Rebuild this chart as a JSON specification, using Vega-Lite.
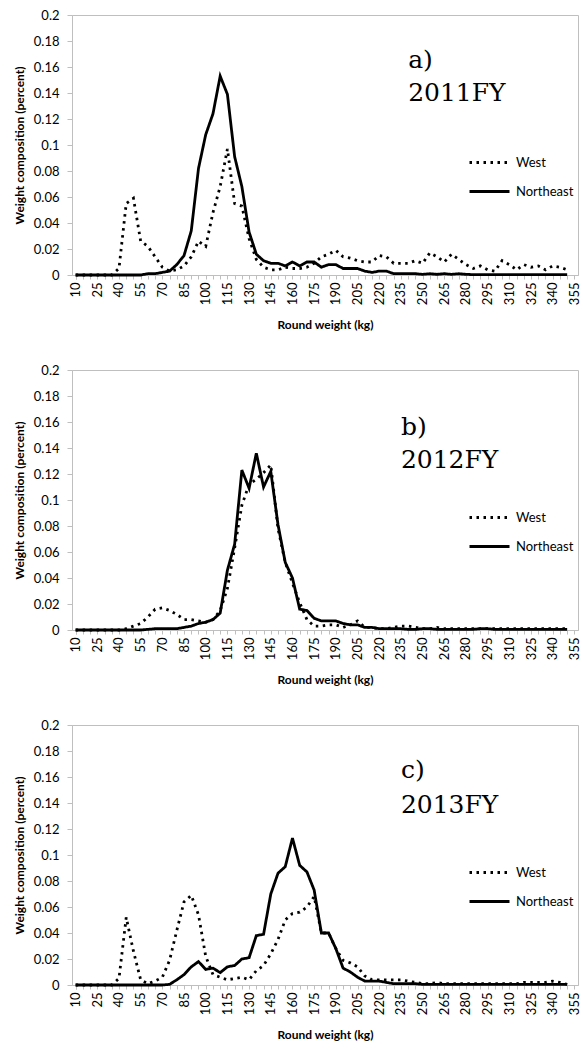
{
  "$schema": "https://vega.github.io/schema/vega-lite/v6.json",
  "background": "white",
  "padding": {"left": 12, "top": 8, "right": 0, "bottom": 2},
  "spacing": 31,
  "datasets": {
    "y2011": [
      {"kg":10,"West":0,"Northeast":0},{"kg":15,"West":0,"Northeast":0},{"kg":20,"West":0,"Northeast":0},{"kg":25,"West":0,"Northeast":0},{"kg":30,"West":0,"Northeast":0},{"kg":35,"West":0,"Northeast":0},
      {"kg":40,"West":0.005,"Northeast":0},{"kg":45,"West":0.055,"Northeast":0},{"kg":50,"West":0.059,"Northeast":0},{"kg":55,"West":0.026,"Northeast":0},
      {"kg":60,"West":0.022,"Northeast":0.001},{"kg":65,"West":0.014,"Northeast":0.001},{"kg":70,"West":0.006,"Northeast":0.002},{"kg":75,"West":0.003,"Northeast":0.003},
      {"kg":80,"West":0.004,"Northeast":0.008},{"kg":85,"West":0.007,"Northeast":0.015},{"kg":90,"West":0.014,"Northeast":0.034},{"kg":95,"West":0.026,"Northeast":0.082},
      {"kg":100,"West":0.022,"Northeast":0.108},{"kg":105,"West":0.048,"Northeast":0.124},{"kg":110,"West":0.068,"Northeast":0.153},{"kg":115,"West":0.097,"Northeast":0.139},
      {"kg":120,"West":0.055,"Northeast":0.091},{"kg":125,"West":0.053,"Northeast":0.068},{"kg":130,"West":0.028,"Northeast":0.033},{"kg":135,"West":0.012,"Northeast":0.016},
      {"kg":140,"West":0.006,"Northeast":0.011},{"kg":145,"West":0.004,"Northeast":0.009},{"kg":150,"West":0.004,"Northeast":0.009},{"kg":155,"West":0.006,"Northeast":0.007},
      {"kg":160,"West":0.005,"Northeast":0.010},{"kg":165,"West":0.005,"Northeast":0.007},{"kg":170,"West":0.006,"Northeast":0.010},{"kg":175,"West":0.009,"Northeast":0.010},
      {"kg":180,"West":0.014,"Northeast":0.006},{"kg":185,"West":0.016,"Northeast":0.008},{"kg":190,"West":0.019,"Northeast":0.008},{"kg":195,"West":0.014,"Northeast":0.005},
      {"kg":200,"West":0.013,"Northeast":0.005},{"kg":205,"West":0.011,"Northeast":0.005},{"kg":210,"West":0.010,"Northeast":0.003},{"kg":215,"West":0.010,"Northeast":0.002},
      {"kg":220,"West":0.015,"Northeast":0.003},{"kg":225,"West":0.014,"Northeast":0.003},{"kg":230,"West":0.009,"Northeast":0.001},{"kg":235,"West":0.009,"Northeast":0.001},
      {"kg":240,"West":0.009,"Northeast":0.001},{"kg":245,"West":0.011,"Northeast":0.001},{"kg":250,"West":0.009,"Northeast":0.0005},{"kg":255,"West":0.017,"Northeast":0.001},
      {"kg":260,"West":0.014,"Northeast":0.0005},{"kg":265,"West":0.010,"Northeast":0.001},{"kg":270,"West":0.016,"Northeast":0.0005},{"kg":275,"West":0.012,"Northeast":0.001},
      {"kg":280,"West":0.008,"Northeast":0.0005},{"kg":285,"West":0.005,"Northeast":0.0003},{"kg":290,"West":0.007,"Northeast":0.0003},{"kg":295,"West":0.004,"Northeast":0.0003},
      {"kg":300,"West":0.003,"Northeast":0.0003},{"kg":305,"West":0.011,"Northeast":0.0003},{"kg":310,"West":0.008,"Northeast":0.0003},{"kg":315,"West":0.004,"Northeast":0.0003},
      {"kg":320,"West":0.008,"Northeast":0.0003},{"kg":325,"West":0.006,"Northeast":0.0003},{"kg":330,"West":0.007,"Northeast":0.0003},{"kg":335,"West":0.004,"Northeast":0.0003},
      {"kg":340,"West":0.007,"Northeast":0.0003},{"kg":345,"West":0.006,"Northeast":0.0003},{"kg":350,"West":0.004,"Northeast":0.0003}
    ],
    "y2012": [
      {"kg":10,"West":0,"Northeast":0},{"kg":15,"West":0,"Northeast":0},{"kg":20,"West":0,"Northeast":0},{"kg":25,"West":0,"Northeast":0},{"kg":30,"West":0,"Northeast":0},{"kg":35,"West":0,"Northeast":0},
      {"kg":40,"West":0,"Northeast":0},{"kg":45,"West":0.001,"Northeast":0},{"kg":50,"West":0.003,"Northeast":0},{"kg":55,"West":0.005,"Northeast":0},
      {"kg":60,"West":0.010,"Northeast":0.0005},{"kg":65,"West":0.016,"Northeast":0.001},{"kg":70,"West":0.017,"Northeast":0.001},{"kg":75,"West":0.015,"Northeast":0.001},
      {"kg":80,"West":0.012,"Northeast":0.001},{"kg":85,"West":0.008,"Northeast":0.002},{"kg":90,"West":0.008,"Northeast":0.003},{"kg":95,"West":0.007,"Northeast":0.005},
      {"kg":100,"West":0.006,"Northeast":0.006},{"kg":105,"West":0.008,"Northeast":0.008},{"kg":110,"West":0.015,"Northeast":0.013},{"kg":115,"West":0.032,"Northeast":0.046},
      {"kg":120,"West":0.063,"Northeast":0.066},{"kg":125,"West":0.096,"Northeast":0.123},{"kg":130,"West":0.112,"Northeast":0.109},{"kg":135,"West":0.116,"Northeast":0.136},
      {"kg":140,"West":0.121,"Northeast":0.110},{"kg":145,"West":0.127,"Northeast":0.122},{"kg":150,"West":0.078,"Northeast":0.081},{"kg":155,"West":0.052,"Northeast":0.052},
      {"kg":160,"West":0.036,"Northeast":0.040},{"kg":165,"West":0.021,"Northeast":0.016},{"kg":170,"West":0.008,"Northeast":0.015},{"kg":175,"West":0.003,"Northeast":0.009},
      {"kg":180,"West":0.003,"Northeast":0.007},{"kg":185,"West":0.004,"Northeast":0.007},{"kg":190,"West":0.004,"Northeast":0.007},{"kg":195,"West":0.002,"Northeast":0.005},
      {"kg":200,"West":0.004,"Northeast":0.004},{"kg":205,"West":0.007,"Northeast":0.004},{"kg":210,"West":0.002,"Northeast":0.002},{"kg":215,"West":0.002,"Northeast":0.002},
      {"kg":220,"West":0.001,"Northeast":0.001},{"kg":225,"West":0.001,"Northeast":0.001},{"kg":230,"West":0.002,"Northeast":0.001},{"kg":235,"West":0.003,"Northeast":0.001},
      {"kg":240,"West":0.003,"Northeast":0.0005},{"kg":245,"West":0.002,"Northeast":0.0005},{"kg":250,"West":0.001,"Northeast":0.001},{"kg":255,"West":0.001,"Northeast":0.001},
      {"kg":260,"West":0.002,"Northeast":0.0005},{"kg":265,"West":0.001,"Northeast":0.0005},{"kg":270,"West":0.001,"Northeast":0.0005},{"kg":275,"West":0.001,"Northeast":0.0005},
      {"kg":280,"West":0.001,"Northeast":0.0005},{"kg":285,"West":0.001,"Northeast":0.0005},{"kg":290,"West":0.001,"Northeast":0.001},{"kg":295,"West":0.001,"Northeast":0.001},
      {"kg":300,"West":0.001,"Northeast":0.0005},{"kg":305,"West":0.001,"Northeast":0.0005},{"kg":310,"West":0.001,"Northeast":0.0005},{"kg":315,"West":0.001,"Northeast":0.0005},
      {"kg":320,"West":0.001,"Northeast":0.0005},{"kg":325,"West":0.001,"Northeast":0.0005},{"kg":330,"West":0.001,"Northeast":0.0005},{"kg":335,"West":0.001,"Northeast":0.0005},
      {"kg":340,"West":0.001,"Northeast":0.0005},{"kg":345,"West":0.001,"Northeast":0.0005},{"kg":350,"West":0.001,"Northeast":0.0005}
    ],
    "y2013": [
      {"kg":10,"West":0,"Northeast":0},{"kg":15,"West":0,"Northeast":0},{"kg":20,"West":0,"Northeast":0},{"kg":25,"West":0,"Northeast":0},{"kg":30,"West":0,"Northeast":0},{"kg":35,"West":0,"Northeast":0},
      {"kg":40,"West":0.005,"Northeast":0},{"kg":45,"West":0.052,"Northeast":0},{"kg":50,"West":0.026,"Northeast":0},{"kg":55,"West":0.004,"Northeast":0},
      {"kg":60,"West":0.001,"Northeast":0},{"kg":65,"West":0.003,"Northeast":0},{"kg":70,"West":0.006,"Northeast":0},{"kg":75,"West":0.019,"Northeast":0.0005},
      {"kg":80,"West":0.042,"Northeast":0.004},{"kg":85,"West":0.064,"Northeast":0.008},{"kg":90,"West":0.069,"Northeast":0.014},{"kg":95,"West":0.054,"Northeast":0.018},
      {"kg":100,"West":0.022,"Northeast":0.012},{"kg":105,"West":0.008,"Northeast":0.013},{"kg":110,"West":0.006,"Northeast":0.0095},{"kg":115,"West":0.004,"Northeast":0.014},
      {"kg":120,"West":0.005,"Northeast":0.015},{"kg":125,"West":0.006,"Northeast":0.020},{"kg":130,"West":0.004,"Northeast":0.021},{"kg":135,"West":0.011,"Northeast":0.038},
      {"kg":140,"West":0.015,"Northeast":0.039},{"kg":145,"West":0.024,"Northeast":0.070},{"kg":150,"West":0.035,"Northeast":0.086},{"kg":155,"West":0.050,"Northeast":0.091},
      {"kg":160,"West":0.055,"Northeast":0.113},{"kg":165,"West":0.056,"Northeast":0.092},{"kg":170,"West":0.060,"Northeast":0.087},{"kg":175,"West":0.068,"Northeast":0.073},
      {"kg":180,"West":0.040,"Northeast":0.040},{"kg":185,"West":0.040,"Northeast":0.040},{"kg":190,"West":0.028,"Northeast":0.028},{"kg":195,"West":0.019,"Northeast":0.013},
      {"kg":200,"West":0.017,"Northeast":0.010},{"kg":205,"West":0.014,"Northeast":0.006},{"kg":210,"West":0.007,"Northeast":0.003},{"kg":215,"West":0.004,"Northeast":0.003},
      {"kg":220,"West":0.004,"Northeast":0.003},{"kg":225,"West":0.004,"Northeast":0.002},{"kg":230,"West":0.004,"Northeast":0.001},{"kg":235,"West":0.004,"Northeast":0.001},
      {"kg":240,"West":0.003,"Northeast":0.001},{"kg":245,"West":0.002,"Northeast":0.001},{"kg":250,"West":0.001,"Northeast":0.0005},{"kg":255,"West":0.001,"Northeast":0.0005},
      {"kg":260,"West":0.002,"Northeast":0.0005},{"kg":265,"West":0.001,"Northeast":0.0005},{"kg":270,"West":0.001,"Northeast":0.0005},{"kg":275,"West":0.001,"Northeast":0.0005},
      {"kg":280,"West":0.001,"Northeast":0.0005},{"kg":285,"West":0.001,"Northeast":0.0005},{"kg":290,"West":0.001,"Northeast":0.0005},{"kg":295,"West":0.001,"Northeast":0.0005},
      {"kg":300,"West":0.001,"Northeast":0.0005},{"kg":305,"West":0.001,"Northeast":0.0005},{"kg":310,"West":0.001,"Northeast":0.0005},{"kg":315,"West":0.001,"Northeast":0.0005},
      {"kg":320,"West":0.002,"Northeast":0.0005},{"kg":325,"West":0.002,"Northeast":0.0005},{"kg":330,"West":0.002,"Northeast":0.0005},{"kg":335,"West":0.002,"Northeast":0.0005},
      {"kg":340,"West":0.003,"Northeast":0.0005},{"kg":345,"West":0.002,"Northeast":0.0005},{"kg":350,"West":0.0005,"Northeast":0.0005}
    ]
  },
  "vconcat": [
    {
      "width": 506, "height": 260,
      "layer": [
        {
          "data": {"name": "y2011"},
          "transform": [{"fold": ["West", "Northeast"], "as": ["region", "value"]}],
          "mark": {"type": "line", "color": "black", "strokeWidth": 2.8},
          "encoding": {
            "x": {"field": "kg", "type": "ordinal", "title": "Round weight (kg)",
              "scale": {"domain": [10,15,20,25,30,35,40,45,50,55,60,65,70,75,80,85,90,95,100,105,110,115,120,125,130,135,140,145,150,155,160,165,170,175,180,185,190,195,200,205,210,215,220,225,230,235,240,245,250,255,260,265,270,275,280,285,290,295,300,305,310,315,320,325,330,335,340,345,350,355], "paddingInner": 0, "paddingOuter": 0}},
            "y": {"field": "value", "type": "quantitative", "title": "Weight composition  (percent)", "scale": {"domain": [0, 0.2], "nice": false}},
            "strokeDash": {"field": "region", "type": "nominal", "scale": {"domain": ["West", "Northeast"], "range": [[2.5, 4.5], [1, 0]]},
              "legend": {"orient": "none", "legendX": 396, "legendY": 126, "direction": "vertical"}}
          }
        },
        {"data": {"values": [{}]}, "mark": {"type": "text", "text": "a)", "font": "DejaVu Serif", "fontSize": 25, "align": "left", "baseline": "alphabetic", "color": "black"},
          "encoding": {"x": {"datum": 240, "type": "ordinal"}, "y": {"datum": 0.159, "type": "quantitative"}}},
        {"data": {"values": [{}]}, "mark": {"type": "text", "text": "2011FY", "font": "DejaVu Serif", "fontSize": 25, "align": "left", "baseline": "alphabetic", "color": "black"},
          "encoding": {"x": {"datum": 240, "type": "ordinal"}, "y": {"datum": 0.134, "type": "quantitative"}}}
      ]
    },
    {
      "width": 506, "height": 260,
      "layer": [
        {
          "data": {"name": "y2012"},
          "transform": [{"fold": ["West", "Northeast"], "as": ["region", "value"]}],
          "mark": {"type": "line", "color": "black", "strokeWidth": 2.8},
          "encoding": {
            "x": {"field": "kg", "type": "ordinal", "title": "Round weight (kg)",
              "scale": {"domain": [10,15,20,25,30,35,40,45,50,55,60,65,70,75,80,85,90,95,100,105,110,115,120,125,130,135,140,145,150,155,160,165,170,175,180,185,190,195,200,205,210,215,220,225,230,235,240,245,250,255,260,265,270,275,280,285,290,295,300,305,310,315,320,325,330,335,340,345,350,355], "paddingInner": 0, "paddingOuter": 0}},
            "y": {"field": "value", "type": "quantitative", "title": "Weight composition  (percent)", "scale": {"domain": [0, 0.2], "nice": false}},
            "strokeDash": {"field": "region", "type": "nominal", "scale": {"domain": ["West", "Northeast"], "range": [[2.5, 4.5], [1, 0]]},
              "legend": {"orient": "none", "legendX": 396, "legendY": 126, "direction": "vertical"}}
          }
        },
        {"data": {"values": [{}]}, "mark": {"type": "text", "text": "b)", "font": "DejaVu Serif", "fontSize": 25, "align": "left", "baseline": "alphabetic", "color": "black"},
          "encoding": {"x": {"datum": 235, "type": "ordinal"}, "y": {"datum": 0.150, "type": "quantitative"}}},
        {"data": {"values": [{}]}, "mark": {"type": "text", "text": "2012FY", "font": "DejaVu Serif", "fontSize": 25, "align": "left", "baseline": "alphabetic", "color": "black"},
          "encoding": {"x": {"datum": 235, "type": "ordinal"}, "y": {"datum": 0.1246, "type": "quantitative"}}}
      ]
    },
    {
      "width": 506, "height": 260,
      "layer": [
        {
          "data": {"name": "y2013"},
          "transform": [{"fold": ["West", "Northeast"], "as": ["region", "value"]}],
          "mark": {"type": "line", "color": "black", "strokeWidth": 2.8},
          "encoding": {
            "x": {"field": "kg", "type": "ordinal", "title": "Round weight (kg)",
              "scale": {"domain": [10,15,20,25,30,35,40,45,50,55,60,65,70,75,80,85,90,95,100,105,110,115,120,125,130,135,140,145,150,155,160,165,170,175,180,185,190,195,200,205,210,215,220,225,230,235,240,245,250,255,260,265,270,275,280,285,290,295,300,305,310,315,320,325,330,335,340,345,350,355], "paddingInner": 0, "paddingOuter": 0}},
            "y": {"field": "value", "type": "quantitative", "title": "Weight composition  (percent)", "scale": {"domain": [0, 0.2], "nice": false}},
            "strokeDash": {"field": "region", "type": "nominal", "scale": {"domain": ["West", "Northeast"], "range": [[2.5, 4.5], [1, 0]]},
              "legend": {"orient": "none", "legendX": 396, "legendY": 126, "direction": "vertical"}}
          }
        },
        {"data": {"values": [{}]}, "mark": {"type": "text", "text": "c)", "font": "DejaVu Serif", "fontSize": 25, "align": "left", "baseline": "alphabetic", "color": "black"},
          "encoding": {"x": {"datum": 235, "type": "ordinal"}, "y": {"datum": 0.159, "type": "quantitative"}}},
        {"data": {"values": [{}]}, "mark": {"type": "text", "text": "2013FY", "font": "DejaVu Serif", "fontSize": 25, "align": "left", "baseline": "alphabetic", "color": "black"},
          "encoding": {"x": {"datum": 235, "type": "ordinal"}, "y": {"datum": 0.132, "type": "quantitative"}}}
      ]
    }
  ],
  "resolve": {"legend": {"strokeDash": "independent"}},
  "config": {
    "font": "Lato",
    "view": {"stroke": "#bfbfbf", "strokeWidth": 1},
    "axisX": {
      "tickBand": "extent", "labelAngle": 270, "labelOverlap": false,
      "labelExpr": "(datum.value - 10) % 15 == 0 ? datum.label : ''",
      "tickSize": 4, "labelPadding": 3, "labelFontSize": 13, "labelColor": "black",
      "domainColor": "#bfbfbf", "tickColor": "#bfbfbf", "grid": false,
      "titleFontSize": 12, "titleFontWeight": "bold", "titleColor": "black", "titlePadding": 15
    },
    "axisY": {
      "values": [0, 0.02, 0.04, 0.06, 0.08, 0.1, 0.12, 0.14, 0.16, 0.18, 0.2], "format": "~g",
      "tickSize": 5, "labelPadding": 8, "labelFontSize": 13, "labelColor": "black",
      "domainColor": "#bfbfbf", "tickColor": "#bfbfbf", "grid": false,
      "titleFontSize": 12, "titleFontWeight": "bold", "titleColor": "black", "titlePadding": 7
    },
    "legend": {
      "title": null, "symbolType": "stroke", "symbolSize": 1600, "symbolStrokeWidth": 3,
      "symbolStrokeColor": "black", "labelFontSize": 13, "labelColor": "black", "labelOffset": 5,
      "rowPadding": -15, "padding": 0, "offset": 0, "symbolOffset": 0
    }
  }
}
